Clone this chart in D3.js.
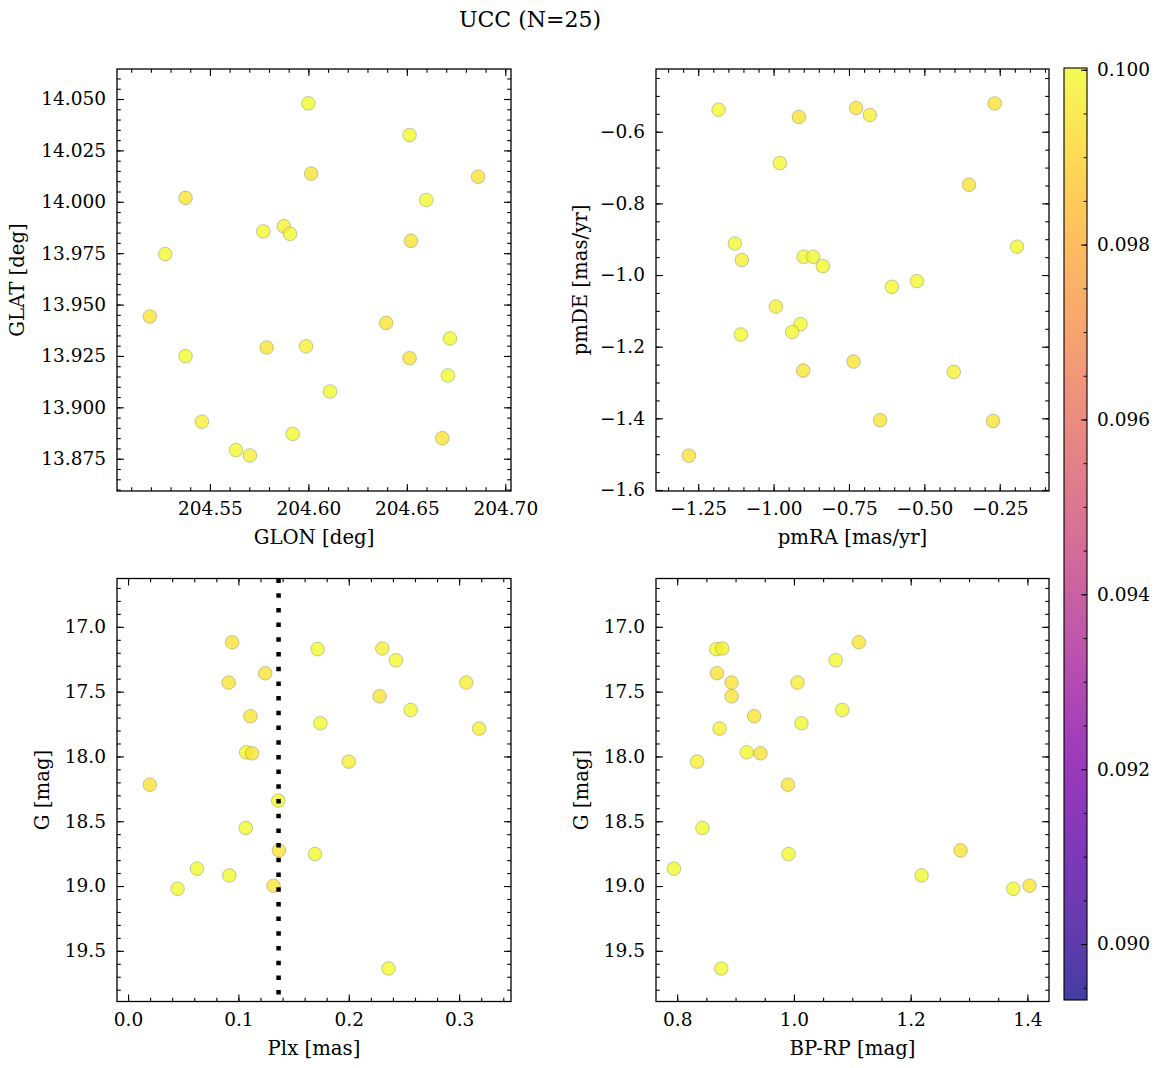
<!DOCTYPE html>
<html><head><meta charset="utf-8">
<script src="https://cdn.jsdelivr.net/npm/d3@7"></script>
<style>
html,body{margin:0;padding:0;background:#fff;}
text{font-family:"DejaVu Serif",serif;fill:#000;}
</style></head>
<body><svg id="c" width="1161" height="1068"></svg>
<script>
// ---- data (one entry per star) ----
const glon = [204.6014,204.6000,204.5875,204.6514,204.6862,204.5376,204.5703,204.6521,204.6599,204.5195,204.5771,204.5459,204.5907,204.6395,204.5988,204.5788,204.5273,204.6719,204.6514,204.5376,204.6709,204.6110,204.6680,204.5920,204.5632];
const glat = [14.0137,14.0479,13.9881,14.0325,14.0122,14.0019,13.8766,13.9810,14.0009,13.9442,13.9856,13.8930,13.9844,13.9411,13.9297,13.9291,13.9746,13.9335,13.9239,13.9249,13.9155,13.9077,13.8850,13.8871,13.8792];
const pmra = [-0.9162,-1.1824,-1.1052,-0.9792,-0.7263,-0.2666,-0.4025,-0.3518,-1.1284,-0.6468,-0.9006,-0.9924,-0.8688,-0.2722,-0.6809,-1.2808,-0.8367,-0.1927,-0.9020,-0.6080,-0.5250,-0.9106,-0.7350,-0.9384,-1.1085];
const pmde = [-0.5589,-0.5385,-0.9580,-0.6875,-0.5338,-0.5210,-1.2704,-0.7480,-0.9120,-1.4054,-0.9490,-1.0880,-0.9490,-1.4073,-0.5533,-1.5042,-0.9750,-0.9210,-1.2667,-1.0330,-1.0170,-1.1370,-1.2415,-1.1590,-1.1660];
const plx  = [0.0943,0.1718,0.2304,0.2427,0.1243,0.0912,0.3064,0.2279,0.2561,0.1109,0.1743,0.3182,0.1070,0.1125,0.2000,0.0197,0.1361,0.1067,0.1367,0.1694,0.0625,0.0918,0.1318,0.0449,0.2361];
const gmag = [17.119,17.172,17.167,17.258,17.358,17.430,17.430,17.536,17.641,17.690,17.744,17.785,17.968,17.976,18.040,18.218,18.341,18.552,18.725,18.753,18.866,18.918,18.998,19.021,19.636];
const bprp = [1.1112,0.8671,0.8773,1.0715,0.8681,0.8932,1.0061,0.8932,1.0828,0.9318,1.0129,0.8727,0.9193,0.9426,0.8341,0.9898,null,0.8432,1.2855,0.9908,0.7944,1.2186,1.4037,1.3758,0.8756];
const cval = [0.0994,0.1000,0.0997,0.1000,0.0994,0.0994,0.0997,0.0994,0.1000,0.0994,0.1000,0.0997,0.1000,0.0994,0.0997,0.0994,0.1000,0.1000,0.0994,0.1000,0.1000,0.1000,0.0994,0.1000,0.1000];
const plxMedian = 0.1364;

// ---- tick labels ----
const glonTicks = [204.55,204.60,204.65,204.70];
const glatTicks = [13.875,13.900,13.925,13.950,13.975,14.000,14.025,14.050];
const pmraTicks = [-1.25,-1.00,-0.75,-0.50,-0.25];
const pmdeTicks = [-1.6,-1.4,-1.2,-1.0,-0.8,-0.6];
const plxTicks  = [0.0,0.1,0.2,0.3];
const gTicks    = [17.0,17.5,18.0,18.5,19.0,19.5];
const bprpTicks = [0.8,1.0,1.2,1.4];
const cbTicks   = [0.090,0.092,0.094,0.096,0.098,0.100];
const title = "UCC (N=25)";

const svg = d3.select("#c");
const FS = 18.5;
const LFS = 19.7;

const cDom = [0.08936, 0.10002];
const cScale = d3.scaleSequential(d3.interpolatePlasma).domain(cDom);

function minorRange(a,b,step){
  const out=[]; const n=Math.round((b-a)/step);
  for(let i=0;i<=n;i++) out.push(+(a+i*step).toFixed(6));
  return out;
}

const panels = [
  {box:[117,69,511,491], xd:[204.5028,204.7029], yd:[13.8593,14.0646], inv:false,
   xk:glonTicks, yk:glatTicks, xf:".2f", yf:".3f", xm:0.01, ym:0.005,
   xs:glon, ys:glat, xl:"GLON [deg]", yl:"GLAT [deg]", ylx:17},
  {box:[656,69,1049,491], xd:[-1.390,-0.0866], yd:[-1.6028,-0.4249], inv:false,
   xk:pmraTicks, yk:pmdeTicks, xf:".2f", yf:".1f", xm:0.05, ym:0.05,
   xs:pmra, ys:pmde, xl:"pmRA [mas/yr]", yl:"pmDE [mas/yr]", ylx:580},
  {box:[117,578.5,511,1001.5], xd:[-0.0100,0.347], yd:[16.627,19.891], inv:true,
   xk:plxTicks, yk:gTicks, xf:".1f", yf:".1f", xm:0.02, ym:0.1,
   xs:plx, ys:gmag, xl:"Plx [mas]", yl:"G [mag]", ylx:42, vline:plxMedian},
  {box:[656,578.5,1049,1001.5], xd:[0.7637,1.437], yd:[16.627,19.891], inv:true,
   xk:bprpTicks, yk:gTicks, xf:".1f", yf:".1f", xm:0.05, ym:0.1,
   xs:bprp, ys:gmag, xl:"BP-RP [mag]", yl:"G [mag]", ylx:581}
];

panels.forEach(p=>{
  const [x0,y0,x1,y1]=p.box;
  const x = d3.scaleLinear().domain(p.xd).range([x0,x1]);
  const y = d3.scaleLinear().domain(p.yd).range(p.inv?[y0,y1]:[y1,y0]);
  const g = svg.append("g");

  const pts = d3.range(p.xs.length).filter(i=>p.xs[i]!=null && p.ys[i]!=null);
  g.selectAll("circle").data(pts).join("circle")
    .attr("cx",i=>x(p.xs[i])).attr("cy",i=>y(p.ys[i])).attr("r",6.8)
    .attr("fill",i=>cScale(cval[i])).attr("fill-opacity",0.75)
    .attr("stroke","#555").attr("stroke-opacity",0.55).attr("stroke-width",0.6);

  if(p.vline!=null){
    g.append("line").attr("x1",x(p.vline)).attr("x2",x(p.vline))
      .attr("y1",y(p.yd[0])).attr("y2",y(p.yd[1]))
      .attr("stroke","#000").attr("stroke-width",4.5).attr("stroke-dasharray","4.5 10.2");
  }

  const xMin = minorRange(Math.ceil(p.xd[0]/p.xm)*p.xm, p.xd[1], p.xm).filter(v=>v>=p.xd[0]&&v<=p.xd[1]);
  const yLo=Math.min(...p.yd), yHi=Math.max(...p.yd);
  const yMin = minorRange(Math.ceil(yLo/p.ym)*p.ym, yHi, p.ym).filter(v=>v>=yLo&&v<=yHi);

  function ax(gen, tr, vals, size, fmt){
    const a = gen.tickValues(vals).tickSize(-size).tickPadding(11)
      .tickFormat(fmt?d3.format(fmt):"");
    const gg = svg.append("g").attr("transform",tr).call(a);
    gg.select(".domain").remove();
    gg.selectAll("line").attr("stroke","#000").attr("stroke-width",1.1);
    gg.selectAll("text").style("font-family","DejaVu Serif").style("font-size",FS+"px").attr("fill","#000");
    return gg;
  }
  ax(d3.axisBottom(x),`translate(0,${y1})`,p.xk,7,p.xf);
  ax(d3.axisBottom(x),`translate(0,${y1})`,xMin,3.8,null);
  ax(d3.axisTop(x),`translate(0,${y0})`,p.xk,7,null);
  ax(d3.axisTop(x),`translate(0,${y0})`,xMin,3.8,null);
  ax(d3.axisLeft(y),`translate(${x0},0)`,p.yk,7,p.yf);
  ax(d3.axisLeft(y),`translate(${x0},0)`,yMin,3.8,null);
  ax(d3.axisRight(y),`translate(${x1},0)`,p.yk,7,null);
  ax(d3.axisRight(y),`translate(${x1},0)`,yMin,3.8,null);

  svg.append("rect").attr("x",x0).attr("y",y0).attr("width",x1-x0).attr("height",y1-y0)
    .attr("fill","none").attr("stroke","#000").attr("stroke-width",1.3);

  svg.append("text").attr("x",(x0+x1)/2).attr("y",y1+53).attr("text-anchor","middle")
    .style("font-size",LFS+"px").text(p.xl);
  svg.append("text").attr("transform",`translate(${p.ylx},${(y0+y1)/2}) rotate(-90)`)
    .attr("dy","0.35em").attr("text-anchor","middle").style("font-size",LFS+"px").text(p.yl);
});

// colorbar
const cb = {x0:1064, x1:1087, y0:68, y1:1000};
const cy = d3.scaleLinear().domain(cDom).range([cb.y1,cb.y0]);
const defs = svg.append("defs");
const grad = defs.append("linearGradient").attr("id","cbg").attr("x1",0).attr("x2",0).attr("y1",1).attr("y2",0);
d3.range(0,1.0001,0.02).forEach(t=>grad.append("stop").attr("offset",t).attr("stop-color",d3.interpolatePlasma(t)));
svg.append("rect").attr("x",cb.x0).attr("y",cb.y0).attr("width",cb.x1-cb.x0).attr("height",cb.y1-cb.y0)
  .attr("fill","url(#cbg)").attr("fill-opacity",0.78);
{
  const a = d3.axisRight(cy).tickValues(cbTicks).tickSize(-6).tickPadding(10).tickFormat(d3.format(".3f"));
  const gg = svg.append("g").attr("transform",`translate(${cb.x1},0)`).call(a);
  gg.select(".domain").remove();
  gg.selectAll("line").attr("stroke","#000").attr("stroke-width",1);
  gg.selectAll("text").style("font-family","DejaVu Serif").style("font-size",FS+"px");
  const mins = minorRange(0.0895,0.1,0.0005).filter(v=>v>=cDom[0]&&v<=cDom[1]);
  const b = d3.axisRight(cy).tickValues(mins).tickSize(-3.5).tickFormat("");
  const g2 = svg.append("g").attr("transform",`translate(${cb.x1},0)`).call(b);
  g2.select(".domain").remove();
  g2.selectAll("line").attr("stroke","#000").attr("stroke-width",0.9);
}
svg.append("rect").attr("x",cb.x0).attr("y",cb.y0).attr("width",cb.x1-cb.x0).attr("height",cb.y1-cb.y0)
  .attr("fill","none").attr("stroke","#000").attr("stroke-width",1.1);

svg.append("text").attr("x",530).attr("y",27).attr("text-anchor","middle")
  .style("font-size","22px").text(title);
</script></body></html>
